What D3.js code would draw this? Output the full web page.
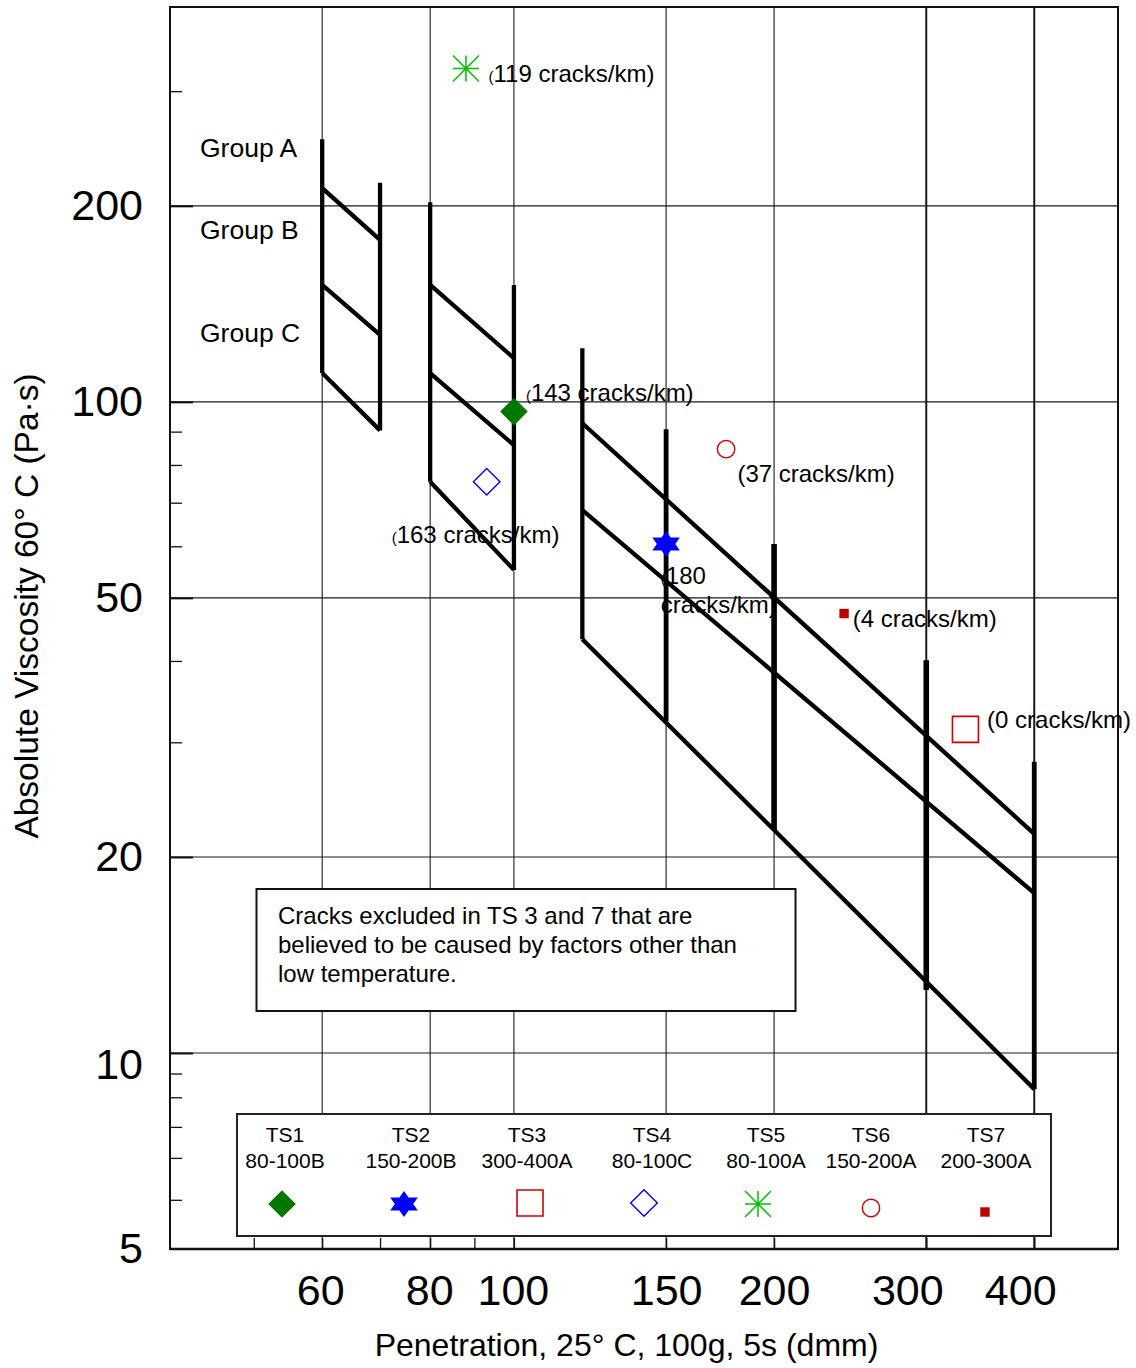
<!DOCTYPE html>
<html><head><meta charset="utf-8">
<script src="https://cdn.jsdelivr.net/npm/d3@7"></script>
<style>
body{margin:0;background:#fff;}
svg text{font-family:"Liberation Sans",Arial,Helvetica,sans-serif;fill:#000;}
</style></head><body>
<svg id="chart" width="1136" height="1368"></svg>
<script>
// ---------- data ----------
const series = ["TS1","TS2","TS3","TS4","TS5","TS6","TS7"];
const grades = ["80-100B","150-200B","300-400A","80-100C","80-100A","150-200A","200-300A"];
const penetration = [100,150,333,93,88,176,241];
const viscosity = [96.6,60.5,31.4,75.4,325,84.6,47.3];
const cracks = [143,180,0,163,119,37,4];

// grade limit (vertical) lines
const limitPen = [60,70,80,100,120,150,200,300,400];
const limitTop = [253,217,202.6,151.2,120.9,90.8,60.5,40.1,28.0];
const limitBottom = [110.7,90.4,75.4,55.2,43.2,32.3,22.0,12.5,8.8];

// group boundary (diagonal) lines
const boundPenStart = [60,60,60,80,80,80,120,120,120];
const boundPenEnd = [70,70,70,100,100,100,400,400,400];
const boundViscStart = [212.9,151.2,110.7,151.2,110.7,75.4,92.7,68.2,43.2];
const boundViscEnd = [177.3,126.7,90.4,116.7,85.8,55.2,21.7,17.6,8.8];

const groupLabels = ["Group A","Group B","Group C"];
const xTickValues = [60,80,100,150,200,300,400];
const yTickValues = [200,100,50,20,10,5];
const yGridValues = [200,100,50,20,10];
const xMinorTicks = [50,60,70,80,90,100,150,200,300,400];
const yMinorTicks = [300,90,80,70,60,40,30,9.3,8.55,7.7,6.9,5.95];
const noteLines = ["Cracks excluded in TS 3 and 7 that are","believed to be caused by factors other than","low temperature."];
const xTitle = "Penetration, 25\u00B0 C, 100g, 5s (dmm)";
const yTitle = "Absolute Viscosity 60\u00B0 C (Pa\u00B7s)";

// ---------- layout ----------
const L = 170, R = 1118, T = 7, B = 1249;
const svg = d3.select("#chart");
const x = d3.scaleLog().domain([40,500]).range([L,R]);
const y = d3.scaleLog().domain([5,404]).range([B,T]);

// grid
const grid = svg.append("g");
grid.selectAll("line.h").data(yGridValues).join("line")
  .attr("x1",L).attr("x2",R).attr("y1",d=>y(d)).attr("y2",d=>y(d))
  .attr("stroke","#1a1a1a").attr("stroke-width",1.1);
grid.selectAll("line.v").data(xTickValues).join("line")
  .attr("x1",d=>x(d)).attr("x2",d=>x(d)).attr("y1",T).attr("y2",B)
  .attr("stroke","#1a1a1a").attr("stroke-width",d=>d>=300?2:1.1);

// minor ticks via axes
const yMinorAxis = svg.append("g").attr("transform",`translate(${L},0)`)
  .call(d3.axisRight(y).tickValues(yMinorTicks).tickSize(12).tickFormat(""));
const yMajorAxis = svg.append("g").attr("transform",`translate(${L},0)`)
  .call(d3.axisRight(y).tickValues(yGridValues).tickSize(23).tickFormat(""));
const xMinorAxis = svg.append("g").attr("transform",`translate(0,${B})`)
  .call(d3.axisTop(x).tickValues(xMinorTicks).tickSize(11).tickFormat(""));
[yMinorAxis,yMajorAxis,xMinorAxis].forEach(g=>{
  g.select(".domain").remove();
  g.selectAll(".tick line").attr("stroke","#111").attr("stroke-width",1.3);
});
yMajorAxis.selectAll(".tick line").attr("stroke-width",2);

// text box (white, over grid)
const note = svg.append("g");
note.append("rect").attr("x",256.5).attr("y",889).attr("width",539).attr("height",122)
  .attr("fill","#fff").attr("stroke","#111").attr("stroke-width",2);
note.selectAll("text").data(noteLines).join("text")
  .attr("x",278).attr("y",(d,i)=>924+i*29).attr("font-size",24).text(d=>d);

// legend (white, over grid)
const legendX = [285,411,527,652,766,871,986];
const legendSymX = [282,404,530,644,758,871,985];
const legendSymY = [1204,1204,1203,1203,1204,1208,1212];
const leg = svg.append("g");
leg.append("rect").attr("x",237).attr("y",1114).attr("width",814).attr("height",122)
  .attr("fill","#fff").attr("stroke","#222").attr("stroke-width",2);
leg.selectAll("text.s").data(series).join("text").attr("class","s")
  .attr("x",(d,i)=>legendX[i]).attr("y",1142).attr("text-anchor","middle").attr("font-size",21).text(d=>d);
leg.selectAll("text.g").data(grades).join("text").attr("class","g")
  .attr("x",(d,i)=>legendX[i]).attr("y",1168).attr("text-anchor","middle").attr("font-size",21).text(d=>d);

// frame
svg.append("rect").attr("x",L).attr("y",T).attr("width",R-L).attr("height",B-T)
  .attr("fill","none").attr("stroke","#111").attr("stroke-width",2);
svg.append("line").attr("x1",L).attr("x2",R).attr("y1",B).attr("y2",B).attr("stroke","#111").attr("stroke-width",2.6);

// grade limit lines and group boundaries
const lines = svg.append("g");
const lineGen = d3.line().x(d=>x(d[0])).y(d=>y(d[1]));
lines.selectAll("path.lim").data(limitPen).join("path")
  .attr("d",(d,i)=>lineGen([[d,limitTop[i]],[d,limitBottom[i]]]))
  .attr("stroke","#000").attr("fill","none")
  .attr("stroke-width",d=> (d>=200 && d<400) ? 5.6 : (d>=150 ? 4.8 : 4.3));
lines.selectAll("path.bnd").data(boundPenStart).join("path")
  .attr("d",(d,i)=>lineGen([[d,boundViscStart[i]],[boundPenEnd[i],boundViscEnd[i]]]))
  .attr("stroke","#000").attr("fill","none").attr("stroke-width",4.3);

// group labels
const groupY = [157,239,342];
svg.selectAll("text.grp").data(groupLabels).join("text").attr("class","grp")
  .attr("x",200).attr("y",(d,i)=>groupY[i]).attr("font-size",26.5).text(d=>d);

// ---------- symbols ----------
const symbolDefs = {
  TS1:{type:"diamond",s:13.8,fill:"#007800",stroke:"none",sw:0},
  TS2:{type:"hexagram",rx:13.8,ry:13,fill:"#0000ff",stroke:"none",sw:0},
  TS3:{type:"square",h:13,fill:"none",stroke:"#d40000",sw:1.6},
  TS4:{type:"diamond",s:13.3,fill:"none",stroke:"#0000ff",sw:1.4},
  TS5:{type:"asterisk",r:13,fill:"none",stroke:"#00c000",sw:1.5},
  TS6:{type:"circle",r:8.7,fill:"none",stroke:"#d00000",sw:1.4},
  TS7:{type:"square",h:4.7,fill:"#c00000",stroke:"none",sw:0}
};
function symPath(def){
  switch(def.type){
    case "diamond": {const s=def.s; return `M0,${-s}L${s},0L0,${s}L${-s},0Z`;}
    case "square": {const h=def.h; return `M${-h},${-h}H${h}V${h}H${-h}Z`;}
    case "hexagram": {const a=def.rx,b=def.ry; return `M0,${-b}L${a},${b/2}L${-a},${b/2}Z M0,${b}L${-a},${-b/2}L${a},${-b/2}Z`;}
    case "asterisk": {const r=def.r; return `M${-r},0H${r}M0,${-r}V${r}M${-r},${-r}L${r},${r}M${-r},${r}L${r},${-r}`;}
    case "circle": {const r=def.r; return `M${r},0A${r},${r} 0 1 1 ${-r},0A${r},${r} 0 1 1 ${r},0Z`;}
  }
}
function drawSym(g, name, cx, cy){
  const def = symbolDefs[name];
  g.append("path").attr("transform",`translate(${cx},${cy})`).attr("d",symPath(def))
    .attr("fill",def.fill).attr("stroke",def.stroke).attr("stroke-width",def.sw);
}
series.forEach((s,i)=>drawSym(leg, s, legendSymX[i], legendSymY[i]));

// data points
const pts = svg.append("g");
series.forEach((s,i)=>drawSym(pts, s, x(penetration[i]), y(viscosity[i])));

// point labels
const labelOff = {TS1:[12,-10.7],TS2:[-5.3,40.3],TS3:[21.6,-1.2],TS4:[-95,61.6],TS5:[22.6,13.4],TS6:[11.3,32.4],TS7:[8.7,13.4]};
const smallParen = {TS1:true,TS2:true,TS4:true,TS5:true};
const lab = svg.append("g");
series.forEach((s,i)=>{
  const px = x(penetration[i]) + labelOff[s][0];
  const py = y(viscosity[i]) + labelOff[s][1];
  const t = lab.append("text").attr("x",px).attr("y",py).attr("font-size",24);
  if(smallParen[s]){
    t.append("tspan").attr("font-size",15).text("(");
  } else {
    t.append("tspan").text("(");
  }
  if(s==="TS2"){
    t.append("tspan").text(`${cracks[i]}`);
    lab.append("text").attr("x",px).attr("y",py+29).attr("font-size",24).text("cracks/km)");
  } else {
    t.append("tspan").text(`${cracks[i]} cracks/km)`);
  }
});

// ---------- axis labels ----------
const yAx = svg.append("g").attr("transform",`translate(${L},0)`)
  .call(d3.axisLeft(y).tickValues(yTickValues).tickFormat(d3.format("d")).tickSize(0).tickPadding(27));
yAx.select(".domain").remove();
yAx.selectAll("text").attr("font-size",43)
  .attr("dy",d=> d===10 ? "0.6em" : "0.32em");
yAx.attr("font-family",null).attr("font-size",null);

const xShift = {300:-19,400:-14,60:-2,80:-1,100:-1};
const xAx = svg.append("g").attr("transform",`translate(0,${B})`)
  .call(d3.axisBottom(x).tickValues(xTickValues).tickFormat(d3.format("d")).tickSize(0).tickPadding(25));
xAx.select(".domain").remove();
xAx.selectAll("text").attr("font-size",43).attr("dx",d=>xShift[d]||0);
xAx.attr("font-family",null).attr("font-size",null);

svg.append("text").attr("x",626.5).attr("y",1356).attr("text-anchor","middle").attr("font-size",32).text(xTitle);
svg.append("text").attr("transform","translate(38,606) rotate(-90)").attr("text-anchor","middle").attr("font-size",33.5).text(yTitle);
</script>
</body></html>
